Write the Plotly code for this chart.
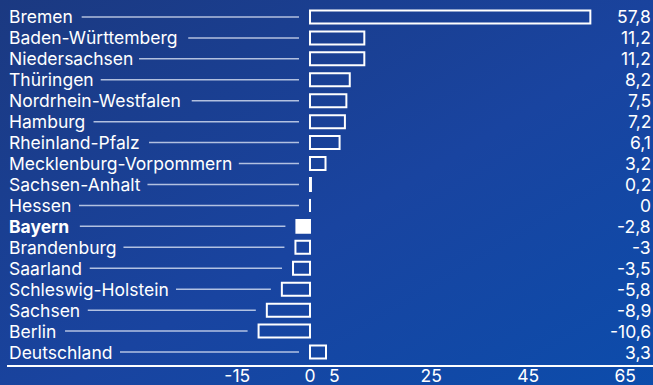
import base64
import plotly.graph_objects as go

states = ["Bremen", "Baden-Württemberg", "Niedersachsen", "Thüringen",
          "Nordrhein-Westfalen", "Hamburg", "Rheinland-Pfalz",
          "Mecklenburg-Vorpommern", "Sachsen-Anhalt", "Hessen", "Bayern",
          "Brandenburg", "Saarland", "Schleswig-Holstein", "Sachsen",
          "Berlin", "Deutschland"]
values = [57.8, 11.2, 11.2, 8.2, 7.5, 7.2, 6.1, 3.2, 0.2, 0, -2.8, -3, -3.5,
          -5.8, -8.9, -10.6, 3.3]
highlight = "Bayern"
tick_vals = [-15, 0, 5, 25, 45, 65]
tick_text = ["-15", "0", "5", "25", "45", "65"]

W, H = 653, 385
ML, MR, MT, MB = 7, 0, 0, 20
FS = 17.5
XMIN, XMAX = -62.47, 70.72
pw = W - ML - MR
ph = H - MT - MB
ppu = pw / (XMAX - XMIN)

# approximate glyph widths (em) for label-length estimation
cw = {c: 0.58 for c in "abcdefghijklmnopqrstuvwxyzüö"}
cw.update({"a": .55, "c": .54, "e": .56, "i": .24, "l": .24, "m": .87, "r": .37,
           "s": .5, "t": .36, "w": .8, "f": .35, "k": .53, "-": .52, "j": .24})
upper = {"B": .64, "H": .73, "N": .74, "T": .6, "M": .86, "S": .62, "D": .7,
         "W": 1.05, "R": .65, "L": .52, "P": .63, "V": .7}
cw.update(upper)


def text_w(s, bold=False):
    w = sum(cw.get(ch, .58) for ch in s) * FS
    return w * (1.06 if bold else 1.0)


def px_to_x(px):
    return XMIN + (px - ML) / ppu


ys = list(range(len(states)))
n = len(states)

# gradient background as svg
svg = f'''<svg xmlns="http://www.w3.org/2000/svg" width="{W}" height="{H}">
<defs><linearGradient id="g" x1="0" y1="0" x2="1" y2="1">
<stop offset="0" stop-color="#1b3981"/><stop offset="0.55" stop-color="#1944a0"/>
<stop offset="1" stop-color="#0c4cab"/></linearGradient></defs>
<rect width="{W}" height="{H}" fill="url(#g)"/></svg>'''
src = "data:image/svg+xml;base64," + base64.b64encode(svg.encode()).decode()

fig = go.Figure()
fig.add_trace(go.Bar(
    y=ys, x=values, orientation="h", width=0.62,
    marker=dict(color=["white" if s == highlight else "rgba(0,0,0,0)" for s in states],
                line=dict(color="white", width=2)),
    hoverinfo="skip",
))

shapes = []
annotations = []
for i, (s, v) in enumerate(zip(states, values)):
    bold = s == highlight
    annotations.append(dict(
        xref="paper", yref="y", x=0, y=i, xanchor="left", yanchor="middle",
        xshift=0, showarrow=False,
        text=f"<b>{s}</b>" if bold else s,
        font=dict(color="white", size=FS, family="Inter")))
    vs = (f"{v:g}").replace(".", ",")
    annotations.append(dict(
        xref="paper", yref="y", x=1, y=i, xanchor="right", yanchor="middle",
        xshift=0, showarrow=False, text=vs,
        font=dict(color="white", size=FS, family="Inter")))
    x0 = px_to_x(ML + 2 + text_w(s, bold) + 10)
    x1 = min(v, 0) - 11 / ppu
    shapes.append(dict(type="line", xref="x", yref="y", x0=x0, x1=x1, y0=i, y1=i,
                       line=dict(color="rgba(230,236,250,0.75)", width=1.5),
                       layer="below"))
    if v == 0:
        shapes.append(dict(type="line", xref="x", yref="y", x0=0, x1=0,
                           y0=i - 0.31, y1=i + 0.31,
                           line=dict(color="white", width=2)))

fig.update_layout(
    width=W, height=H,
    margin=dict(l=ML, r=MR, t=MT, b=MB, pad=0, autoexpand=False),
    paper_bgcolor="#1a409a", plot_bgcolor="rgba(0,0,0,0)",
    showlegend=False,
    images=[dict(source=src, xref="paper", yref="paper",
                 x=-ML / pw, y=1 + MT / ph, sizex=W / pw, sizey=H / ph,
                 xanchor="left", yanchor="top", sizing="stretch", layer="below")],
    xaxis=dict(range=[XMIN, XMAX], tickvals=tick_vals, ticktext=tick_text,
               showgrid=False, zeroline=False, showline=True, linecolor="white",
               linewidth=2, ticks="", automargin=False, ticklabelstandoff=-6,
               tickfont=dict(color="white", size=FS, family="Inter"),
               fixedrange=True),
    yaxis=dict(range=[n - 1 + 0.62, -0.81], showticklabels=False, showgrid=False,
               zeroline=False, showline=False, fixedrange=True, automargin=False),
    shapes=shapes, annotations=annotations,
    font=dict(family="Inter", color="white"),
)

fig.write_html("out.html", config={"displayModeBar": False})
